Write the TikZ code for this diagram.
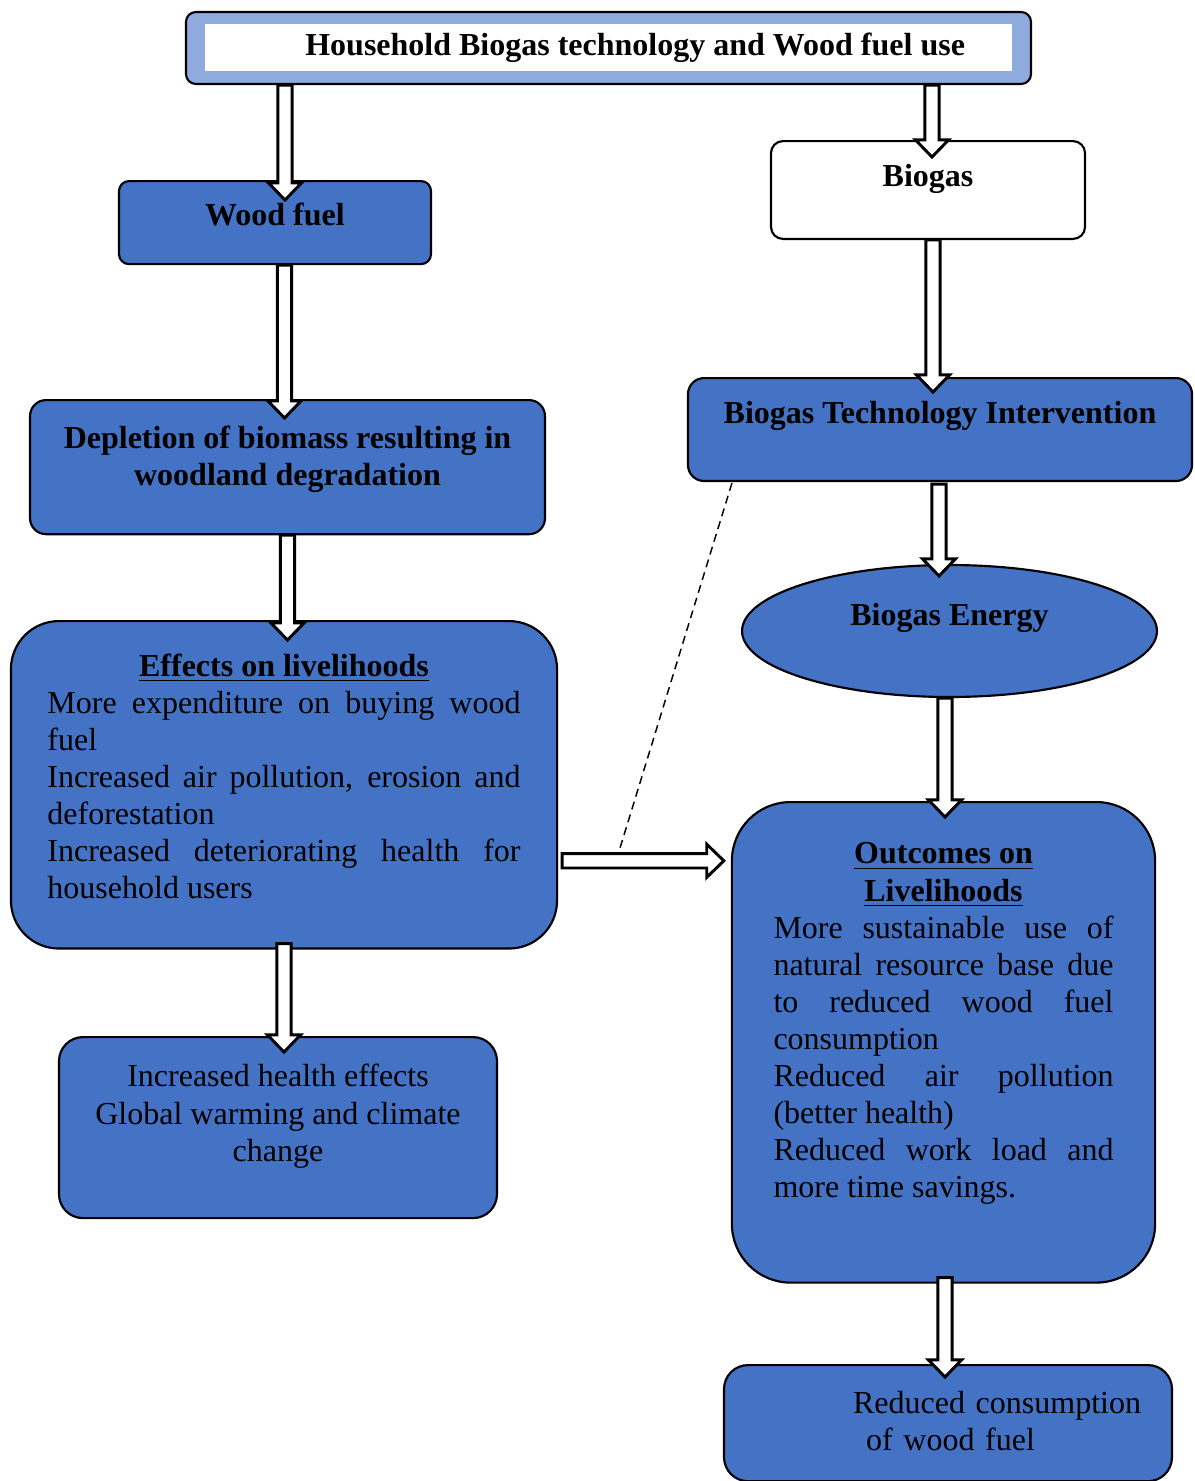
\documentclass[tikz,border=0pt]{standalone}
\usepackage{fontspec}
\setmainfont{Liberation Serif}
\usetikzlibrary{shapes, arrows.meta, positioning, calc}
\definecolor{boxblue}{RGB}{68, 114, 196}
\definecolor{bandblue}{RGB}{143, 170, 220}

\begin{document}
\begin{tikzpicture}[x=0.375pt, y=-0.375pt,
  every node/.style={font=\fontsize{12pt}{13.9pt}\selectfont},
  boldtext/.style={font=\fontsize{12pt}{13.9pt}\selectfont\bfseries},
  flowbox/.style={draw=black, line width=0.8pt, fill=boxblue, inner ysep=0pt, anchor=north},
  hollowarrow/.style={draw=black, line width=1.1pt, fill=white, line join=miter,
    to path={
      ($(\tikztostart)!2.7pt!90:(\tikztotarget)$)
      -- ($($(\tikztotarget)!6.4pt!(\tikztostart)$)!2.7pt!90:(\tikztotarget)$)
      -- ($($(\tikztotarget)!6.4pt!(\tikztostart)$)!6.2pt!90:(\tikztotarget)$)
      -- (\tikztotarget)
      -- ($($(\tikztotarget)!6.4pt!(\tikztostart)$)!6.2pt!-90:(\tikztotarget)$)
      -- ($($(\tikztotarget)!6.4pt!(\tikztostart)$)!2.7pt!-90:(\tikztotarget)$)
      -- ($(\tikztostart)!2.7pt!-90:(\tikztotarget)$)
      -- cycle}},
  dashline/.style={draw=black, line width=0.55pt, dash pattern=on 3pt off 2pt}]

  \useasboundingbox (0,0) rectangle (1194,1481);

  % title bar
  \node[boldtext, draw=black, line width=0.8pt, fill=bandblue, rounded corners=3.75pt,
    minimum width=316.9pt, minimum height=27pt,
    path picture={\fill[white, sharp corners] ([shift={(19,12)}]path picture bounding box.north west)
      rectangle ([shift={(-19,-13)}]path picture bounding box.south east);}]
    (title) at (608.5, 48) {\hspace*{20pt}\raisebox{-1.1pt}{Household Biogas technology and Wood fuel use}};

  % left branch
  \node[flowbox, boldtext, rounded corners=3.75pt, minimum width=117pt]
    (woodfuel) at (275, 180) {\rule{0pt}{16.5pt}Wood fuel\rule[-14.65pt]{0pt}{0pt}};
  \node[flowbox, boldtext, rounded corners=6pt, minimum width=193.1pt, align=center]
    (depletion) at (287.5, 399) {\rule{0pt}{18pt}Depletion of biomass resulting in\\woodland degradation\rule[-18.4pt]{0pt}{0pt}};
  \node[flowbox, rounded corners=18pt, text width=177.4pt, inner xsep=13.7pt, align=justify]
    (effects) at (284, 620) {\parindent=0pt\makebox[\hsize]{\rule{0pt}{20.6pt}\textbf{\underline{Effects on livelihoods}}}\\
    More expenditure on buying wood\linebreak fuel\\
    Increased air pollution, erosion and\linebreak deforestation\\
    Increased deteriorating health for\linebreak household users\rule[-18.8pt]{0pt}{0pt}};
  \node[flowbox, rounded corners=9pt, minimum width=164.25pt, align=center]
    (warming) at (278, 1036) {\rule{0pt}{18.7pt}Increased health effects\\Global warming and climate\\change\rule[-21.4pt]{0pt}{0pt}};

  % right branch
  \node[flowbox, boldtext, fill=white, rounded corners=4.5pt, minimum width=117.75pt]
    (biogas) at (928, 140) {\rule{0pt}{17.2pt}Biogas\rule[-19.5pt]{0pt}{0pt}};
  \node[flowbox, boldtext, rounded corners=6pt, minimum width=189pt]
    (tech) at (940, 377) {\rule{0pt}{17.2pt}Biogas Technology Intervention\rule[-21.4pt]{0pt}{0pt}};
  \node[boldtext, ellipse, draw=black, line width=0.8pt, fill=boxblue, inner sep=0pt,
    minimum width=155.6pt, minimum height=49.5pt]
    (energy) at (949.5, 631) {\rule{0pt}{9pt}Biogas Energy\rule[-13.2pt]{0pt}{0pt}};
  \node[flowbox, rounded corners=22pt, text width=127.5pt, inner xsep=15.6pt, align=justify]
    (outcomes) at (943.5, 801) {\parindent=0pt\makebox[\hsize]{\rule{0pt}{23.2pt}\textbf{\underline{Outcomes on}}}\\
    \makebox[\hsize]{\textbf{\underline{Livelihoods}}}\\
    More sustainable use of\linebreak natural resource base due\linebreak to reduced wood fuel\linebreak consumption\\
    Reduced air pollution\linebreak (better health)\\
    Reduced work load and\linebreak more time savings.\rule[-31.9pt]{0pt}{0pt}};
  \node[flowbox, rounded corners=9pt, text width=152pt, inner xsep=8pt, align=left]
    (reduced) at (948, 1364) {\rule{0pt}{18pt}\hspace*{40.4pt}Reduced consumption\\\hspace*{45.3pt}of wood fuel\rule[-11.65pt]{0pt}{0pt}};

  % block arrows
  \draw[hollowarrow] ($(title.south -| woodfuel.north)+(10,0)$) to ($(woodfuel.north)+(10,20)$);
  \draw[hollowarrow] ($(title.south -| biogas.north)+(4,0)$) to ($(biogas.north)+(4,17)$);
  \draw[hollowarrow] ($(woodfuel.south -| depletion.north)+(-3,0)$) to ($(depletion.north)+(-3,19)$);
  \draw[hollowarrow] ($(biogas.south)+(5,0)$) to ($(tech.north -| biogas.south)+(5,15)$);
  \draw[hollowarrow] (depletion.south) to ($(effects.north -| depletion.south)+(0,20)$);
  \draw[hollowarrow] ($(tech.south)+(-1,2)$) to ($(energy.north -| tech.south)+(-1,12)$);
  \draw[hollowarrow] ($(energy.south -| outcomes.north)+(1.5,0)$) to ($(outcomes.north)+(1.5,16)$);
  \draw[hollowarrow] ($(effects.south)+(0,-6)$) to ($(warming.north -| effects.south)+(0,16)$);
  \draw[hollowarrow] ($(effects.east)+(4,76)$) to ($(effects.east -| outcomes.west)+(-7,76)$);
  \draw[hollowarrow] ($(outcomes.south)+(1.5,-6)$) to ($(reduced.north -| outcomes.south)+(1.5,13)$);

  % dashed link
  \coordinate (dashend) at (620, 848);
  \draw[dashline] ($(tech.south west)+(45,1)$) -- (dashend);
\end{tikzpicture}
\end{document}
